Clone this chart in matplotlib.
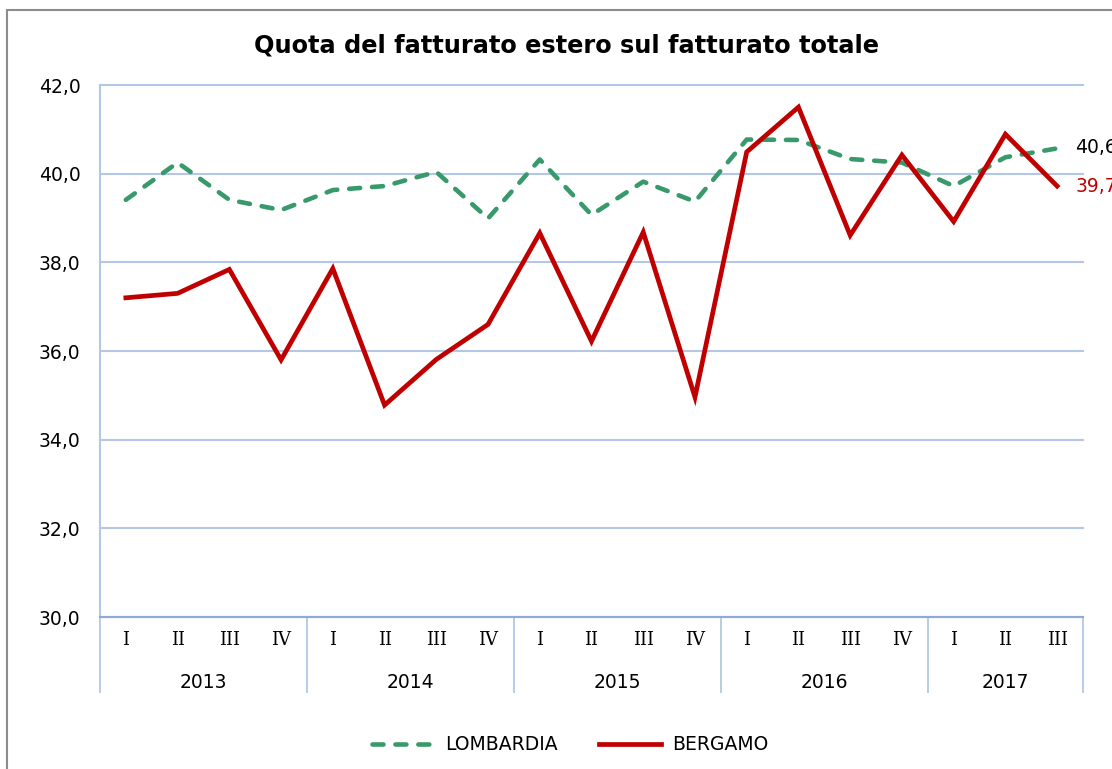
import matplotlib
matplotlib.use("Agg")
import matplotlib.pyplot as plt
from matplotlib.lines import Line2D
from matplotlib.patches import Rectangle
from matplotlib.transforms import blended_transform_factory

# dati
anni = ["2013", "2014", "2015", "2016", "2017"]
trimestri = ["I", "II", "III", "IV"] * 4 + ["I", "II", "III"]
lombardia = [39.41, 40.25, 39.41, 39.18,
             39.63, 39.72, 40.04, 38.99,
             40.32, 39.07, 39.82, 39.37,
             40.77, 40.76, 40.33, 40.25,
             39.72, 40.37, 40.57]
bergamo = [37.20, 37.30, 37.84, 35.80,
           37.86, 34.78, 35.81, 36.60,
           38.66, 36.22, 38.68, 34.96,
           40.49, 41.50, 38.61, 40.42,
           38.92, 40.89, 39.72]
y_ticks = [30, 32, 34, 36, 38, 40, 42]

verde = "#38996b"
rosso = "#c00000"
blu_griglia = "#b4c7e7"

fig = plt.figure(figsize=(11.12, 7.69), dpi=100)
ax = fig.add_axes([100 / 1112, 1 - 617 / 769, 983 / 1112, 532 / 769])

x = list(range(len(trimestri)))
ax.plot(x, lombardia, color=verde, lw=3.3, dashes=(2.4, 2.6),
        dash_capstyle="round", solid_joinstyle="round", zorder=3)
ax.plot(x, bergamo, color=rosso, lw=3.4, solid_joinstyle="miter", zorder=4)

ax.set_xlim(-0.5, len(trimestri) - 0.5)
ax.set_ylim(30, 42)
ax.set_yticks(y_ticks)
ax.set_yticklabels([f"{v:.1f}".replace(".", ",") for v in y_ticks])
ax.tick_params(axis="y", length=0, pad=14, labelsize=13.5)
ax.yaxis.grid(True, color=blu_griglia, lw=1.5)
for g in ax.get_ygridlines():
    g.set_clip_on(False)
ax.set_axisbelow(True)

ax.set_xticks(x)
ax.set_xticklabels(trimestri, family="DejaVu Serif", fontsize=13)
ax.tick_params(axis="x", which="major", length=0, pad=10)

# separatori tra gli anni
bordi = [-0.5, 3.5, 7.5, 11.5, 15.5, len(trimestri) - 0.5]
ax.set_xticks(bordi, minor=True)
ax.tick_params(axis="x", which="minor", length=55, width=1.3, color=blu_griglia)

trans = blended_transform_factory(ax.transData, ax.transAxes)
for i, anno in enumerate(anni):
    centro = (bordi[i] + bordi[i + 1]) / 2
    ax.text(centro, -0.124, anno, transform=trans, ha="center", va="center",
            fontsize=13.5)

for s in ["top", "right"]:
    ax.spines[s].set_visible(False)
ax.spines["left"].set_color(blu_griglia)
ax.spines["left"].set_linewidth(1.5)
ax.spines["bottom"].set_color("#8eaadb")
ax.spines["bottom"].set_linewidth(1.5)

# etichette finali
ax.annotate(f"{lombardia[-1]:.1f}".replace(".", ","), (x[-1], lombardia[-1]),
            xytext=(13, 1), textcoords="offset points", va="center",
            fontsize=13.5, color="black", annotation_clip=False)
ax.annotate(f"{bergamo[-1]:.1f}".replace(".", ","), (x[-1], bergamo[-1]),
            xytext=(13, 0), textcoords="offset points", va="center",
            fontsize=13.5, color=rosso, annotation_clip=False)

fig.text(567 / 1112, 1 - 45 / 769, "Quota del fatturato estero sul fatturato totale",
         ha="center", va="center", fontsize=17.3, fontweight="bold")

handles = [Line2D([], [], color=verde, lw=3.3, dashes=(2.4, 2.6), dash_capstyle="round"),
           Line2D([], [], color=rosso, lw=3.4)]
fig.legend(handles, ["LOMBARDIA", "BERGAMO"], loc="center",
           bbox_to_anchor=(570 / 1112, 1 - 745 / 769), ncol=2, frameon=False,
           fontsize=13.5, handlelength=3.3, columnspacing=2.2, handletextpad=0.6)

# cornice esterna
fig.patches.append(Rectangle((7 / 1112, -0.1), 1.2, 1 - 10 / 769 + 0.1,
                             transform=fig.transFigure, fill=False,
                             edgecolor="#8c8c8c", lw=1.5))

fig.savefig("out.png", dpi=100)
